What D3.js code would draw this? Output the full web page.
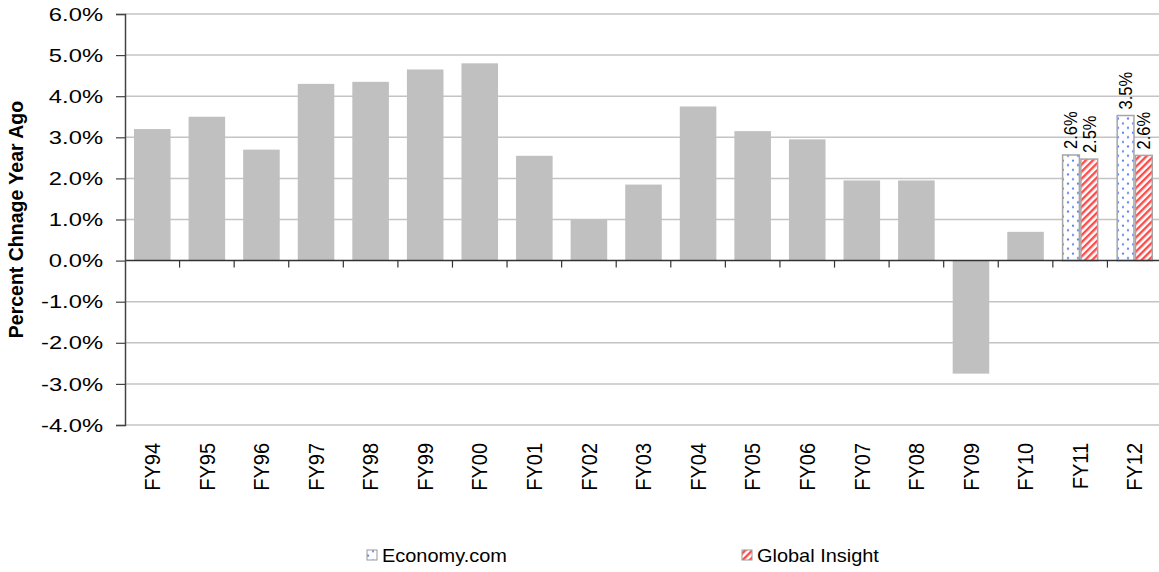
<!DOCTYPE html>
<html>
<head>
<meta charset="utf-8">
<script src="https://cdn.jsdelivr.net/npm/d3@7"></script>
<style>
  html, body { margin: 0; padding: 0; background: #fff; }
  svg text { font-family: Arial, "Liberation Sans", sans-serif; fill: #000; }
</style>
</head>
<body>
<svg id="chart" width="1159" height="572"></svg>
<script>
// ---- data ----
const categories = ["FY94","FY95","FY96","FY97","FY98","FY99","FY00","FY01","FY02","FY03",
                    "FY04","FY05","FY06","FY07","FY08","FY09","FY10","FY11","FY12"];
const actualValues = [3.2, 3.5, 2.7, 4.3, 4.35, 4.65, 4.8, 2.55, 1.0, 1.85,
                      3.75, 3.15, 2.95, 1.95, 1.95, -2.75, 0.7, null, null];
const forecastCategories = ["FY11", "FY12"];
const economyValues = [2.57, 3.53];
const globalInsightValues = [2.47, 2.56];
const economyLabels = ["2.6%", "3.5%"];
const globalInsightLabels = ["2.5%", "2.6%"];
const yTicks = [-4, -3, -2, -1, 0, 1, 2, 3, 4, 5, 6];
const yTickLabels = ["-4.0%", "-3.0%", "-2.0%", "-1.0%", "0.0%", "1.0%", "2.0%", "3.0%", "4.0%", "5.0%", "6.0%"];
const seriesNames = ["Economy.com", "Global Insight"];
const yTitle = "Percent Chnage Year Ago";

// ---- layout ----
const svg = d3.select("#chart");
const pLeft = 125, pRight = 1162, pTop = 14, pBottom = 425;

const x = d3.scaleBand().domain(categories).range([pLeft, pRight]).padding(0);
const y = d3.scaleLinear().domain([-4, 6]).range([pBottom, pTop]);
const step = x.step();
const barW = step * 0.67;

// patterns
const defs = svg.append("defs");
const dots = defs.append("pattern").attr("id", "dots")
  .attr("patternUnits", "userSpaceOnUse").attr("width", 10).attr("height", 9.3);
dots.append("rect").attr("width", 10).attr("height", 9.3).attr("fill", "#fff");
dots.append("circle").attr("cx", 3).attr("cy", 2.5).attr("r", 1.1).attr("fill", "#5b7cf0");
dots.append("circle").attr("cx", 8).attr("cy", 7).attr("r", 1.1).attr("fill", "#5b7cf0");

const stripes = defs.append("pattern").attr("id", "stripes")
  .attr("patternUnits", "userSpaceOnUse").attr("width", 5).attr("height", 5)
  .attr("patternTransform", "rotate(45)");
stripes.append("rect").attr("width", 5).attr("height", 5).attr("fill", "#fff");
stripes.append("rect").attr("width", 2.4).attr("height", 5).attr("fill", "#ff4a4a");

// gridlines
svg.append("g").selectAll("line").data(yTicks.filter(d => d !== 0)).join("line")
  .attr("x1", pLeft).attr("x2", pRight)
  .attr("y1", d => y(d)).attr("y2", d => y(d))
  .attr("stroke", "#c4c4c4").attr("stroke-width", 1.5);

// actual bars
svg.append("g").selectAll("rect")
  .data(categories.map((c, i) => ({c, v: actualValues[i]})).filter(d => d.v !== null))
  .join("rect")
  .attr("x", d => x(d.c) + (step - barW) / 2)
  .attr("width", barW)
  .attr("y", d => y(Math.max(0, d.v)))
  .attr("height", d => Math.abs(y(d.v) - y(0)))
  .attr("fill", "#c0c0c0");

// forecast bars
const half = barW / 2;
const fc = svg.append("g");
forecastCategories.forEach((c, i) => {
  const x0 = x(c) + (step - barW) / 2;
  const pairs = [
    {v: economyValues[i], fill: "url(#dots)", lab: economyLabels[i], xx: x0},
    {v: globalInsightValues[i], fill: "url(#stripes)", lab: globalInsightLabels[i], xx: x0 + half}
  ];
  pairs.forEach(p => {
    fc.append("rect")
      .attr("x", p.xx + 0.75).attr("width", half - 1.5)
      .attr("y", y(p.v)).attr("height", y(0) - y(p.v))
      .attr("fill", p.fill).attr("stroke", "#a6a6a6").attr("stroke-width", 1.5);
    fc.append("text")
      .attr("transform", `translate(${p.xx + half / 2},${y(p.v) - 6}) scale(1.1,1) rotate(-90)`)
      .attr("dy", "0.35em").attr("text-anchor", "start")
      .style("font-size", "16.5px").text(p.lab);
  });
});

// x axis (zero line) with ticks between categories
svg.append("line").attr("x1", pLeft).attr("x2", pRight)
  .attr("y1", y(0)).attr("y2", y(0)).attr("stroke", "#333").attr("stroke-width", 1.5);
svg.append("g").selectAll("line").data(categories.slice(1)).join("line")
  .attr("x1", d => x(d)).attr("x2", d => x(d))
  .attr("y1", y(0)).attr("y2", y(0) + 7)
  .attr("stroke", "#333").attr("stroke-width", 1.2);

// x labels
svg.append("g").selectAll("text").data(categories).join("text")
  .attr("transform", d => `translate(${x(d) + step / 2},443) scale(1.1,1) rotate(-90)`)
  .attr("dy", "0.35em").attr("text-anchor", "end")
  .style("font-size", "20px").text(d => d);

// y axis
const yAxis = d3.axisLeft(y).tickValues(yTicks).tickSize(9).tickFormat((d, i) => yTickLabels[i]);
const ya = svg.append("g").attr("transform", `translate(${pLeft},0)`).call(yAxis);
ya.select(".domain").attr("stroke", "#444").attr("stroke-width", 1.5);
ya.selectAll(".tick line").attr("stroke", "#444").attr("stroke-width", 1.2);
ya.selectAll(".tick text").remove();
svg.append("g").selectAll("text").data(yTicks).join("text")
  .attr("transform", d => `translate(103,${y(d)}) scale(1.25,1)`)
  .attr("dy", "0.35em").attr("text-anchor", "end")
  .style("font-size", "19px").text((d, i) => yTickLabels[i]);

// y title
svg.append("text")
  .attr("transform", `translate(16,${(pTop + pBottom) / 2}) rotate(-90)`)
  .attr("dy", "0.35em").attr("text-anchor", "middle")
  .style("font-size", "19.5px").style("font-weight", "bold").text(yTitle);

// legend
const legend = svg.append("g");
const legItems = [
  {name: seriesNames[0], fill: "url(#dots)", x: 367},
  {name: seriesNames[1], fill: "url(#stripes)", x: 742}
];
legItems.forEach(it => {
  legend.append("rect").attr("x", it.x).attr("y", 550).attr("width", 10).attr("height", 10)
    .attr("fill", it.fill).attr("stroke", "#999").attr("stroke-width", 1);
  legend.append("text")
    .attr("transform", `translate(${it.x + 15},555) scale(1.05,1)`)
    .attr("dy", "0.35em").style("font-size", "19px").text(it.name);
});
</script>
</body>
</html>
